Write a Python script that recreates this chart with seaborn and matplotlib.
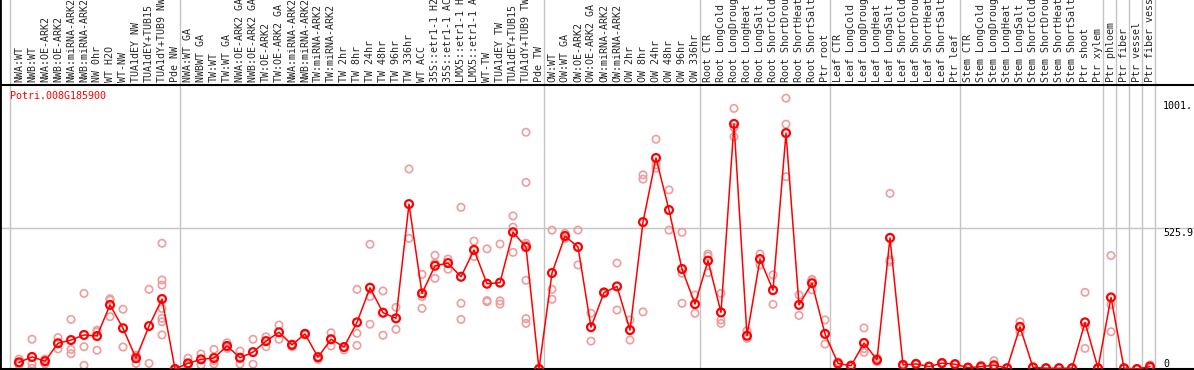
import numpy as np
import pandas as pd
import matplotlib
matplotlib.use("Agg")
import matplotlib.pyplot as plt
from matplotlib.lines import Line2D
import seaborn as sns

gene_name = "Potri.008G185900"

categories = [
    "NWA:WT", "NWB:WT", "NWA:OE-ARK2", "NWB:OE-ARK2", "NWA:miRNA-ARK2", "NWB:miRNA-ARK2",
    "NW 0hr", "WT H2O", "WT-NW", "TUA1dEY NW", "TUA1dEY+TUB15", "TUA1dY+TUB9 NW", "Pde NW",
    "NWA:WT GA", "NWBWT GA", "TW:WT", "TW:WT GA", "NWA:OE-ARK2 GA", "NWB:OE-ARK2 GA",
    "TW:OE-ARK2", "TW:OE-ARK2 GA", "NWA:miRNA-ARK2", "NWB:miRNA-ARK2", "TW:miRNA-ARK2",
    "TW:miRNA-ARK2", "TW 2hr", "TW 8hr", "TW 24hr", "TW 48hr", "TW 96hr", "TW 336hr",
    "WT ACC", "35S::etr1-1 H2O", "35S::etr1-1 ACC", "LMX5::etr1-1 H2O", "LMX5::etr1-1 ACC",
    "WT-TW", "TUA1dEY TW", "TUA1dEY+TUB15", "TUA1dY+TUB9 TW", "Pde TW",
    "OW:WT", "OW:WT GA", "OW:OE-ARK2", "OW:OE-ARK2 GA", "OW:miRNA-ARK2", "OW:miRNA-ARK2",
    "OW 2hr", "OW 8hr", "OW 24hr", "OW 48hr", "OW 96hr", "OW 336hr",
    "Root CTR", "Root LongCold", "Root LongDrought", "Root LongHeat", "Root LongSalt",
    "Root ShortCold", "Root ShortDrought", "Root ShortHeat", "Root ShortSalt", "Ptr root",
    "Leaf CTR", "Leaf LongCold", "Leaf LongDrought", "Leaf LongHeat", "Leaf LongSalt",
    "Leaf ShortCold", "Leaf ShortDrought", "Leaf ShortHeat", "Leaf ShortSalt", "Ptr leaf",
    "Stem CTR", "Stem LongCold", "Stem LongDrought", "Stem LongHeat", "Stem LongSalt",
    "Stem ShortCold", "Stem ShortDrought", "Stem ShortHeat", "Stem ShortSalt", "Ptr shoot",
    "Ptr xylem", "Ptr phloem", "Ptr fiber", "Ptr vessel", "Ptr fiber vessel",
]

group_sizes = [13, 28, 12, 10, 10, 11, 1, 1, 1, 1]

means = [
    25, 45, 29, 96, 108, 127, 123, 239, 152, 40, 160, 261, 0,
    21, 36, 41, 86, 42, 63, 104, 137, 90, 131, 44, 111, 82, 174, 303, 210, 189, 615,
    282, 385, 395, 344, 444, 318, 322, 510, 455, 0,
    358, 496, 455, 156, 285, 308, 145, 548, 787, 593, 373, 242,
    404, 211, 914, 124, 410, 294, 880, 239, 320, 131,
    21, 12, 97, 34, 489, 15, 19, 9, 22, 18,
    5, 9, 14, 3, 157, 6, 3, 3, 3, 174, 3,
    267, 3, 0, 9,
]

replicates = [
    [37, 15, 22], [111, 19, 3], [37, 19, 31], [117, 75], [185, 73, 57], [282, 83, 14],
    [145, 139, 70], [257, 262, 195], [223, 82], [52, 47, 21], [297, 21],
    [469, 332, 313, 226, 189, 176, 127], [0, 0, 0],
    [40, 21, 9], [56, 15], [73, 19, 31], [98, 83, 77], [67, 19, 40], [111, 18], [120, 83],
    [164, 111], [92, 83], [133, 127], [46, 36], [135, 86], [81, 71], [297, 133, 88],
    [465, 270, 167], [291, 126], [230, 148], [746, 487], [353, 270, 226], [424, 394, 338],
    [410, 372], [603, 245, 185], [477, 419], [448, 255, 251], [466, 254, 242],
    [571, 529, 435], [883, 696, 469, 462, 331, 188, 170], [0, 0, 0],
    [518, 297, 260], [506, 496, 487], [518, 388], [208, 104], [288, 282], [395, 220],
    [183, 108], [724, 708, 213], [857, 761, 749], [668, 518], [510, 357, 245], [276, 208],
    [429, 421, 359], [282, 183, 170], [972, 901, 866], [143, 114], [429, 388], [351, 241],
    [1010, 913, 717], [276, 200], [332, 334, 295], [183, 93],
    [27, 17], [15, 9], [153, 62, 76], [40, 27], [655, 407, 400], [15, 12, 18],
    [19, 17, 21], [9, 8, 10], [22, 20, 24], [18, 16, 20],
    [5, 3, 7], [14, 8, 5], [31, 10, 1], [3, 2, 4], [176, 157, 139], [6, 5, 7], [3, 2, 4],
    [3, 2, 4], [3, 2, 4], [286, 158, 77], [3, 2, 4],
    [423, 241, 139], [3, 2, 4], [0, 0, 0], [15, 9, 3],
]

y_labels = ["1001.", "525.9", "0"]
y_label_vals = [1001, 525.9, 0]

# ---------------------------------------------------------------
sns.set_style("white")
plt.rcParams["font.family"] = ["DejaVu Sans Mono", "DejaVu Sans"]

W, H = 1194, 370
fig = plt.figure(figsize=(W / 100, H / 100), dpi=100)
ax_top_px = 85
ax_bot_px = 369
ax = fig.add_axes([0, (H - ax_bot_px) / H, 1, (ax_bot_px - ax_top_px) / H])

n = len(categories)
xpos = np.arange(n)
mean_df = pd.DataFrame({"x": xpos, "value": means})
rep_df = pd.DataFrame(
    [(i, v) for i, reps in enumerate(replicates) for v in reps], columns=["x", "value"]
)

scale = 13.0  # px per category
x0 = -19 / scale
x1 = x0 + W / scale
ymax = 1051.8 * 1.007
ax.set_xlim(x0, x1)
ax.set_ylim(0, ymax)

# grid
ax.axhline(525.9, color="#c4c4c4", lw=1.0, zorder=0)
bounds = [-0.7] + list(np.cumsum(group_sizes) - 0.6)
for b in bounds:
    ax.add_line(Line2D([b, b], [0, 1 + ax_top_px / (ax_bot_px - ax_top_px)],
                       transform=ax.get_xaxis_transform(), color="#c4c4c4", lw=1.0,
                       clip_on=False, zorder=0))

sns.scatterplot(data=rep_df, x="x", y="value", ax=ax, marker="o", s=28,
                facecolor="none", edgecolor="#ee9c9c", linewidth=1.2, zorder=2,
                legend=False)
sns.lineplot(data=mean_df, x="x", y="value", ax=ax, color="#ff0000", lw=1.1,
             zorder=3, legend=False)
sns.scatterplot(data=mean_df, x="x", y="value", ax=ax, marker="o", s=32,
                facecolor="none", edgecolor="#ff0000", linewidth=1.6, zorder=4,
                legend=False)

ax.set_xlabel("")
ax.set_ylabel("")
ax.xaxis.tick_top()
ax.set_xticks(xpos)
ax.set_xticklabels(categories, rotation=90, fontsize=7.2, fontfamily="DejaVu Sans Mono")
ax.tick_params(axis="x", length=0, pad=2, top=True, bottom=False,
               labeltop=True, labelbottom=False)
ax.set_yticks([])

for s in ["right"]:
    ax.spines[s].set_visible(False)
for s in ["top", "bottom", "left"]:
    ax.spines[s].set_color("black")
    ax.spines[s].set_linewidth(1.5)

# left border extending through label area
ax.add_line(Line2D([0, 0], [0, 1 + ax_top_px / (ax_bot_px - ax_top_px)],
                   transform=ax.transAxes, color="black", lw=2.0, clip_on=False))

# right value labels
lab_x = x0 + 1163 / scale
for lab, v in zip(y_labels, y_label_vals):
    ax.text(lab_x, v, lab, fontsize=7.2, color="black", ha="left",
            va="bottom" if v == 0 else "top", fontfamily="DejaVu Sans Mono")

ax.text(10 / W, 1 - 6 / (ax_bot_px - ax_top_px), gene_name, transform=ax.transAxes,
        color="#ff0000", fontsize=7.2, ha="left", va="top", fontfamily="DejaVu Sans Mono")

fig.savefig("out.png", dpi=100)
